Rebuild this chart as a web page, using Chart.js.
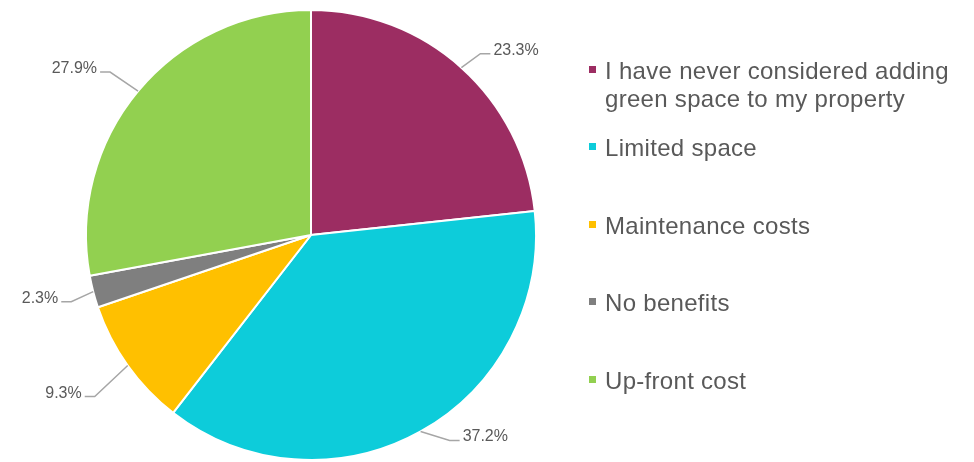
<!DOCTYPE html>
<html>
<head>
<meta charset="utf-8">
<title>Barriers to green space</title>
<script src="https://cdn.jsdelivr.net/npm/chart.js@4/dist/chart.umd.min.js"></script>
<style>
  body { margin: 0; background: #fff; }
  #wrap { position: relative; width: 974px; height: 462px; }
  #leyenda {
    position: absolute; left: 589px; top: 56.7px; width: 370px;
    margin: 0; padding: 0; list-style: none;
    font-family: "Liberation Sans", Arial, sans-serif; font-size: 24px;
    line-height: 28px; letter-spacing: 0.3px; color: #595959;
  }
  #leyenda li { position: relative; height: 77.5px; padding-left: 16px; }
  #leyenda span.box {
    position: absolute; left: 0; top: 9px; width: 7px; height: 7px;
  }
</style>
</head>
<body>
<div id="wrap">
  <canvas id="chart1"></canvas>
  <ul id="leyenda"></ul>
</div>
<script>
var etiquetas = [
  "I have never considered adding green space to my property",
  "Limited space",
  "Maintenance costs",
  "No benefits",
  "Up-front cost"
];
var porcentajes = [23.3, 37.2, 9.3, 2.3, 27.9];
var colores = ["#9C2D62", "#0DCCDA", "#FFC000", "#7F7F7F", "#92D050"];

// where each label sits, relative to the middle of its slice edge
var desplazamiento = [[19, -14], [29, 9], [-33, 31], [-22, 10], [-28, -19]];

var etiquetasPorcentaje = {
  id: "etiquetasPorcentaje",
  afterDatasetsDraw: function (chart) {
    var ctx = chart.ctx;
    var arcos = chart.getDatasetMeta(0).data;
    ctx.save();
    ctx.font = "16px 'Liberation Sans', Arial, sans-serif";
    ctx.fillStyle = "#595959";
    ctx.strokeStyle = "#A6A6A6";
    ctx.lineWidth = 1.5;
    ctx.textBaseline = "alphabetic";
    for (var i = 0; i < arcos.length; i++) {
      var p = arcos[i].getProps(["x", "y", "startAngle", "endAngle", "outerRadius"], true);
      var medio = (p.startAngle + p.endAngle) / 2;
      var bx = p.x + Math.cos(medio) * p.outerRadius;
      var by = p.y + Math.sin(medio) * p.outerRadius;
      var ex = bx + desplazamiento[i][0];
      var ey = by + desplazamiento[i][1];
      var lado = desplazamiento[i][0] >= 0 ? 1 : -1;
      var fx = ex + lado * 10;

      ctx.beginPath();
      ctx.moveTo(bx, by);
      ctx.lineTo(ex, ey);
      ctx.lineTo(fx, ey);
      ctx.stroke();

      ctx.textAlign = lado > 0 ? "left" : "right";
      ctx.fillText(porcentajes[i].toFixed(1) + "%", fx + lado * 3, ey + 1);
    }
    ctx.restore();
  }
};

var datos = {
  type: "pie",
  data: {
    labels: etiquetas,
    datasets: [{
      data: porcentajes,
      backgroundColor: colores,
      borderColor: "#FFFFFF",
      borderWidth: 2
    }]
  },
  options: {
    responsive: true,
    maintainAspectRatio: false,
    animation: false,
    layout: {
      padding: { left: 85, right: 437, top: 9, bottom: 1 }
    },
    plugins: {
      legend: { display: false },
      tooltip: { enabled: false }
    }
  },
  plugins: [etiquetasPorcentaje]
};

var canvas = document.getElementById("chart1").getContext("2d");
window.pie = new Chart(canvas, datos);

// legend on the right, one entry per slice
var lista = document.getElementById("leyenda");
for (var i = 0; i < etiquetas.length; i++) {
  var li = document.createElement("li");
  var caja = document.createElement("span");
  caja.className = "box";
  caja.style.background = colores[i];
  li.appendChild(caja);
  li.appendChild(document.createTextNode(etiquetas[i]));
  lista.appendChild(li);
}
</script>
</body>
</html>
